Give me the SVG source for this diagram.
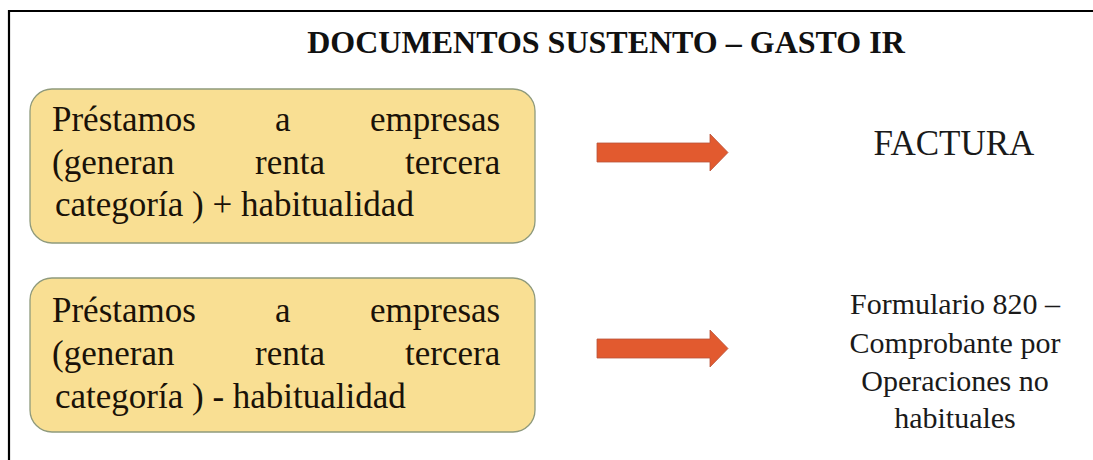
<svg xmlns="http://www.w3.org/2000/svg" width="1093" height="460" viewBox="0 0 1093 460" font-family="serif">
<style>
.nodebox{fill:#f9df93;stroke:#8f9a7c;stroke-width:1.3}
.arrowshape{fill:#e25a2f;stroke:#b9533a;stroke-width:0.8}
</style>
<rect x="0" y="0" width="1093" height="460" fill="#ffffff"/>
<path d="M9,460 V11 H1093" fill="none" stroke="#000000" stroke-width="2.2"/>
<g id="title">
<text x="606" y="53" text-anchor="middle" font-family="Liberation Serif, serif" font-weight="bold" font-size="32" fill="#111111">DOCUMENTOS SUSTENTO – GASTO IR</text>
</g>
<g id="box1">
<rect class="nodebox" x="30" y="89" width="505" height="154" rx="22" ry="22"/>
<text font-family="Liberation Serif, serif" font-size="35" fill="#1a1208"><tspan x="52" y="131">Préstamos</tspan><tspan x="275" y="131">a</tspan><tspan x="370" y="131">empresas</tspan></text>
<text font-family="Liberation Serif, serif" font-size="35" fill="#1a1208"><tspan x="52" y="174">(generan</tspan><tspan x="255" y="174">renta</tspan><tspan x="405" y="174">tercera</tspan></text>
<text x="55" y="216" font-family="Liberation Serif, serif" font-size="35" fill="#1a1208">categoría ) + habitualidad</text>
</g>
<g id="box2">
<rect class="nodebox" x="30" y="278" width="505" height="154" rx="22" ry="22"/>
<text font-family="Liberation Serif, serif" font-size="35" fill="#1a1208"><tspan x="52" y="322">Préstamos</tspan><tspan x="275" y="322">a</tspan><tspan x="370" y="322">empresas</tspan></text>
<text font-family="Liberation Serif, serif" font-size="35" fill="#1a1208"><tspan x="52" y="365">(generan</tspan><tspan x="255" y="365">renta</tspan><tspan x="405" y="365">tercera</tspan></text>
<text x="55" y="408" font-family="Liberation Serif, serif" font-size="35" fill="#1a1208">categoría ) - habitualidad</text>
</g>
<g id="connectors">
<polygon class="arrowshape" points="597,143 710,143 710,134 728,152.5 710,171 710,162 597,162"/>
<polygon class="arrowshape" points="597,339 710,339 710,330 728,348.5 710,367 710,358 597,358"/>
</g>
<g id="factura">
<text x="954" y="155" font-family="Liberation Serif, serif" font-size="35" fill="#1a1a1a" text-anchor="middle">FACTURA</text>
</g>
<g id="formulario">
<text font-family="Liberation Serif, serif" font-size="30" fill="#1a1a1a" text-anchor="middle"><tspan x="955" y="314">Formulario 820 –</tspan><tspan x="955" y="353">Comprobante por</tspan><tspan x="955" y="391">Operaciones no</tspan><tspan x="955" y="428">habituales</tspan></text>
</g>
</svg>
